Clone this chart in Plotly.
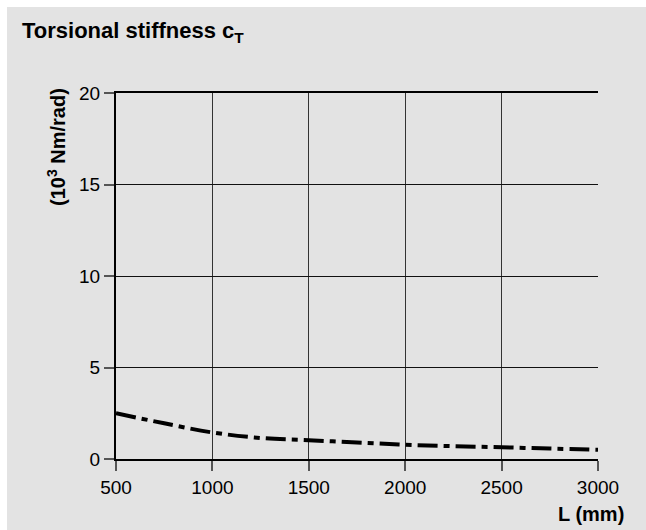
import plotly.graph_objects as go

# Torsional stiffness vs. length
length_mm = [500, 750, 1000, 1250, 1500, 1750, 2000, 2250, 2500, 2750, 3000]
stiffness = [2.5, 1.95, 1.45, 1.15, 1.03, 0.9, 0.78, 0.7, 0.64, 0.57, 0.5]

x_ticks = [500, 1000, 1500, 2000, 2500, 3000]
y_ticks = [0, 5, 10, 15, 20]

W, H = 646, 530
ML, MR, MT, MB = 116, 48, 93, 71
PW, PH = W - ML - MR, H - MT - MB
BG = "#e3e3e3"
FONT = "Liberation Sans, Arial, sans-serif"

fig = go.Figure()
fig.add_trace(go.Scatter(
    x=length_mm, y=stiffness, mode="lines",
    line=dict(color="black", width=4, dash="20px,6px,6px,6px", shape="spline"),
    hoverinfo="skip", showlegend=False,
))

# gray panel with a thin white strip along the top and left edges
fig.add_shape(type="rect", xref="paper", yref="paper", layer="below",
              x0=(7 - ML) / PW, x1=(W - ML) / PW + 0.01,
              y0=-MB / PH - 0.01, y1=1 + (MT - 7) / PH,
              fillcolor=BG, line_width=0)

fig.update_layout(
    width=W, height=H,
    margin=dict(l=ML, r=MR, t=MT, b=MB),
    paper_bgcolor="white", plot_bgcolor=BG,
    font=dict(family=FONT, size=19, color="black"),
    showlegend=False,
    xaxis=dict(
        range=[500, 3000], tickvals=x_ticks, ticks="outside", ticklen=10,
        tickcolor="#555", tickwidth=1.5,
        showgrid=True, gridcolor="#333", gridwidth=1,
        showline=True, linecolor="black", linewidth=2, mirror=True,
        zeroline=False, tickfont=dict(size=19),
    ),
    yaxis=dict(
        range=[0, 20], tickvals=y_ticks, ticks="outside", ticklen=10,
        tickcolor="#555", tickwidth=1.5,
        showgrid=True, gridcolor="#111", gridwidth=1.2,
        showline=True, linecolor="black", linewidth=2,
        zeroline=False, tickfont=dict(size=19),
    ),
    annotations=[
        dict(text="<b>Torsional stiffness c<sub>T</sub></b>", xref="paper", yref="paper",
             x=-(ML - 20) / PW, y=1 + (MT - 16) / PH, xanchor="left", yanchor="top",
             showarrow=False, font=dict(size=22, family=FONT)),
        dict(text="<b>(10<sup>3</sup> Nm/rad)</b>", xref="paper", yref="paper",
             x=-(ML - 56) / PW, y=1 + 7 / PH, xanchor="center", yanchor="top",
             textangle=-90, showarrow=False, font=dict(size=20, family=FONT)),
        dict(text="<b>L (mm)</b>", xref="paper", yref="paper",
             x=(626 - ML) / PW, y=-(527 - MT - PH) / PH, xanchor="right", yanchor="bottom",
             showarrow=False, font=dict(size=20, family=FONT)),
    ],
)

fig.write_html("out.html")
